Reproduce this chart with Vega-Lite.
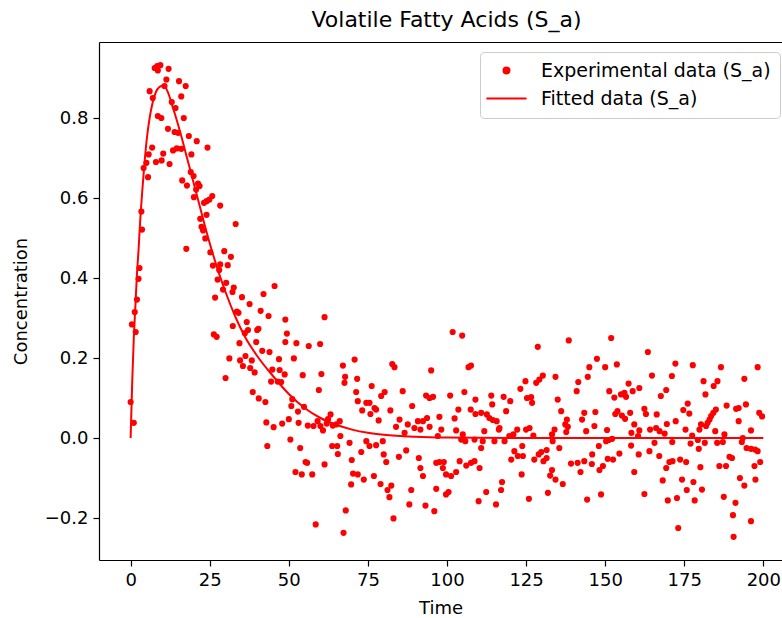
{
"$schema":"https://vega.github.io/schema/vega-lite/v6.json",
"width":683,"height":518,
"autosize":{"type":"none"},
"padding":{"left":99,"top":42,"right":0,"bottom":58},
"background":"white",
"title":{"text":"Volatile Fatty Acids (S_a)","fontSize":22,"font":"DejaVu Sans","fontWeight":"normal","color":"black","offset":10,"dx":6},
"datasets":{
"pts":[
{"t":0.0,"v":0.09,"s":"exp"},{"t":0.4,"v":0.284,"s":"exp"},{"t":1.0,"v":0.038,"s":"exp"},{"t":1.3,"v":0.315,"s":"exp"},{"t":1.6,"v":0.265,"s":"exp"},{"t":2.0,"v":0.346,"s":"exp"},{"t":2.5,"v":0.398,"s":"exp"},{"t":2.8,"v":0.425,"s":"exp"},{"t":3.4,"v":0.566,"s":"exp"},{"t":3.6,"v":0.521,"s":"exp"},{"t":4.1,"v":0.675,"s":"exp"},{"t":5.0,"v":0.688,"s":"exp"},{"t":5.5,"v":0.652,"s":"exp"},{"t":5.7,"v":0.709,"s":"exp"},{"t":6.0,"v":0.867,"s":"exp"},{"t":6.8,"v":0.726,"s":"exp"},{"t":7.0,"v":0.85,"s":"exp"},{"t":7.6,"v":0.925,"s":"exp"},{"t":8.0,"v":0.69,"s":"exp"},{"t":8.4,"v":0.93,"s":"exp"},{"t":8.6,"v":0.919,"s":"exp"},{"t":8.6,"v":0.805,"s":"exp"},{"t":9.4,"v":0.932,"s":"exp"},{"t":9.7,"v":0.80,"s":"exp"},{"t":9.8,"v":0.694,"s":"exp"},{"t":10.3,"v":0.711,"s":"exp"},{"t":10.7,"v":0.88,"s":"exp"},{"t":11.3,"v":0.896,"s":"exp"},{"t":11.8,"v":0.773,"s":"exp"},{"t":12.0,"v":0.923,"s":"exp"},{"t":12.3,"v":0.685,"s":"exp"},{"t":13.0,"v":0.84,"s":"exp"},{"t":13.4,"v":0.719,"s":"exp"},{"t":13.9,"v":0.765,"s":"exp"},{"t":14.2,"v":0.825,"s":"exp"},{"t":14.6,"v":0.724,"s":"exp"},{"t":15.0,"v":0.763,"s":"exp"},{"t":15.3,"v":0.892,"s":"exp"},{"t":16.0,"v":0.854,"s":"exp"},{"t":16.0,"v":0.723,"s":"exp"},{"t":16.3,"v":0.644,"s":"exp"},{"t":16.8,"v":0.80,"s":"exp"},{"t":17.4,"v":0.88,"s":"exp"},{"t":17.6,"v":0.473,"s":"exp"},{"t":17.8,"v":0.631,"s":"exp"},{"t":18.4,"v":0.755,"s":"exp"},{"t":19.0,"v":0.665,"s":"exp"},{"t":19.2,"v":0.709,"s":"exp"},{"t":19.9,"v":0.655,"s":"exp"},{"t":20.0,"v":0.602,"s":"exp"},{"t":20.7,"v":0.621,"s":"exp"},{"t":20.9,"v":0.742,"s":"exp"},
{"t":21.3,"v":0.636,"s":"exp"},{"t":21.8,"v":0.63,"s":"exp"},{"t":22.0,"v":0.548,"s":"exp"},{"t":22.4,"v":0.528,"s":"exp"},{"t":22.9,"v":0.519,"s":"exp"},{"t":23.2,"v":0.588,"s":"exp"},{"t":23.6,"v":0.499,"s":"exp"},{"t":24.0,"v":0.592,"s":"exp"},{"t":24.0,"v":0.558,"s":"exp"},{"t":24.3,"v":0.726,"s":"exp"},{"t":24.9,"v":0.596,"s":"exp"},{"t":25.2,"v":0.464,"s":"exp"},{"t":25.8,"v":0.605,"s":"exp"},{"t":26.0,"v":0.431,"s":"exp"},{"t":26.3,"v":0.259,"s":"exp"},{"t":27.2,"v":0.253,"s":"exp"},{"t":26.7,"v":0.351,"s":"exp"},{"t":27.5,"v":0.396,"s":"exp"},{"t":28.0,"v":0.42,"s":"exp"},{"t":28.3,"v":0.434,"s":"exp"},{"t":28.3,"v":0.581,"s":"exp"},{"t":29.2,"v":0.371,"s":"exp"},{"t":29.6,"v":0.467,"s":"exp"},{"t":30.0,"v":0.15,"s":"exp"},{"t":30.2,"v":0.388,"s":"exp"},{"t":30.7,"v":0.432,"s":"exp"},{"t":31.2,"v":0.199,"s":"exp"},{"t":31.7,"v":0.453,"s":"exp"},{"t":32.2,"v":0.365,"s":"exp"},{"t":32.3,"v":0.28,"s":"exp"},{"t":32.6,"v":0.376,"s":"exp"},{"t":33.2,"v":0.535,"s":"exp"},{"t":33.6,"v":0.316,"s":"exp"},{"t":34.1,"v":0.313,"s":"exp"},{"t":34.4,"v":0.237,"s":"exp"},{"t":34.6,"v":0.194,"s":"exp"},{"t":35.2,"v":0.352,"s":"exp"},{"t":35.5,"v":0.18,"s":"exp"},{"t":36.1,"v":0.262,"s":"exp"},{"t":36.3,"v":0.205,"s":"exp"},{"t":36.7,"v":0.29,"s":"exp"},{"t":37.1,"v":0.27,"s":"exp"},{"t":37.6,"v":0.335,"s":"exp"},{"t":37.8,"v":0.175,"s":"exp"},{"t":38.3,"v":0.194,"s":"exp"},{"t":38.6,"v":0.115,"s":"exp"},{"t":39.2,"v":0.164,"s":"exp"},{"t":39.7,"v":0.24,"s":"exp"},{"t":40.0,"v":0.27,"s":"exp"},{"t":40.4,"v":0.273,"s":"exp"},{"t":40.5,"v":0.099,"s":"exp"},{"t":41.1,"v":0.318,"s":"exp"},{"t":41.6,"v":0.218,"s":"exp"},{"t":42.0,"v":0.36,"s":"exp"},{"t":42.6,"v":0.09,"s":"exp"},{"t":42.9,"v":0.039,"s":"exp"},{"t":43.2,"v":-0.02,"s":"exp"},{"t":43.6,"v":0.305,"s":"exp"},{"t":43.9,"v":0.215,"s":"exp"},{"t":44.4,"v":0.141,"s":"exp"},{"t":44.8,"v":0.171,"s":"exp"},{"t":45.2,"v":0.027,"s":"exp"},{"t":45.5,"v":0.38,"s":"exp"},{"t":46.5,"v":0.141,"s":"exp"},{"t":46.9,"v":0.197,"s":"exp"},{"t":47.1,"v":0.17,"s":"exp"},{"t":47.6,"v":0.14,"s":"exp"},{"t":47.9,"v":0.036,"s":"exp"},{"t":48.7,"v":0.159,"s":"exp"},{"t":48.9,"v":0.24,"s":"exp"},{"t":48.9,"v":0.296,"s":"exp"},{"t":49.4,"v":0.261,"s":"exp"},{"t":50.0,"v":0.047,"s":"exp"},{"t":50.5,"v":-0.004,"s":"exp"},{"t":50.8,"v":0.08,"s":"exp"},{"t":51.1,"v":0.097,"s":"exp"},{"t":51.6,"v":0.199,"s":"exp"},{"t":52.1,"v":-0.085,"s":"exp"},{"t":52.4,"v":0.237,"s":"exp"},{"t":52.9,"v":0.066,"s":"exp"},{"t":53.1,"v":0.038,"s":"exp"},{"t":53.6,"v":-0.025,"s":"exp"},{"t":54.1,"v":-0.091,"s":"exp"},{"t":54.4,"v":0.157,"s":"exp"},{"t":54.8,"v":0.078,"s":"exp"},{"t":55.3,"v":-0.06,"s":"exp"},{"t":55.8,"v":-0.062,"s":"exp"},{"t":56.0,"v":0.031,"s":"exp"},{"t":56.3,"v":0.23,"s":"exp"},{"t":57.4,"v":-0.091,"s":"exp"},{"t":57.8,"v":0.03,"s":"exp"},{"t":58.5,"v":-0.216,"s":"exp"},{"t":59.1,"v":0.042,"s":"exp"},{"t":59.5,"v":0.12,"s":"exp"},{"t":59.9,"v":0.235,"s":"exp"},{"t":60.0,"v":0.03,"s":"exp"},{"t":60.3,"v":0.16,"s":"exp"},{"t":60.8,"v":0.019,"s":"exp"},{"t":61.3,"v":0.302,"s":"exp"},{"t":61.3,"v":-0.066,"s":"exp"},{"t":62.0,"v":0.036,"s":"exp"},{"t":62.4,"v":0.047,"s":"exp"},{"t":63.2,"v":0.059,"s":"exp"},{"t":63.7,"v":-0.02,"s":"exp"},{"t":63.9,"v":0.031,"s":"exp"},{"t":65.0,"v":0.034,"s":"exp"},{"t":65.3,"v":-0.02,"s":"exp"},{"t":65.5,"v":-0.04,"s":"exp"},{"t":66.1,"v":0.042,"s":"exp"},{"t":66.3,"v":0.005,"s":"exp"},{"t":67.1,"v":0.181,"s":"exp"},{"t":67.3,"v":-0.237,"s":"exp"},{"t":67.6,"v":0.138,"s":"exp"},{"t":67.8,"v":0.153,"s":"exp"},{"t":68.0,"v":-0.181,"s":"exp"},
{"t":69.2,"v":-0.012,"s":"exp"},{"t":69.7,"v":-0.116,"s":"exp"},{"t":69.9,"v":-0.055,"s":"exp"},{"t":70.3,"v":-0.089,"s":"exp"},{"t":70.8,"v":0.196,"s":"exp"},{"t":71.3,"v":0.115,"s":"exp"},{"t":71.6,"v":0.148,"s":"exp"},{"t":71.8,"v":0.092,"s":"exp"},{"t":71.8,"v":-0.091,"s":"exp"},{"t":72.9,"v":-0.035,"s":"exp"},{"t":73.2,"v":0.069,"s":"exp"},{"t":73.7,"v":-0.104,"s":"exp"},{"t":74.5,"v":0.088,"s":"exp"},{"t":74.5,"v":-0.008,"s":"exp"},{"t":75.5,"v":0.088,"s":"exp"},{"t":75.5,"v":-0.02,"s":"exp"},{"t":75.8,"v":0.06,"s":"exp"},{"t":76.2,"v":0.13,"s":"exp"},{"t":76.9,"v":-0.095,"s":"exp"},{"t":77.1,"v":0.075,"s":"exp"},{"t":77.6,"v":0.071,"s":"exp"},{"t":77.6,"v":-0.018,"s":"exp"},{"t":78.4,"v":0.044,"s":"exp"},{"t":79.0,"v":-0.115,"s":"exp"},{"t":79.2,"v":0.105,"s":"exp"},{"t":79.7,"v":-0.008,"s":"exp"},{"t":80.0,"v":-0.041,"s":"exp"},{"t":80.3,"v":0.115,"s":"exp"},{"t":80.8,"v":-0.06,"s":"exp"},{"t":81.2,"v":-0.13,"s":"exp"},{"t":81.8,"v":-0.148,"s":"exp"},{"t":82.1,"v":0.069,"s":"exp"},{"t":82.4,"v":-0.119,"s":"exp"},{"t":82.7,"v":0.185,"s":"exp"},{"t":83.1,"v":-0.201,"s":"exp"},{"t":83.4,"v":0.177,"s":"exp"},{"t":83.9,"v":0.028,"s":"exp"},{"t":84.8,"v":-0.047,"s":"exp"},{"t":85.0,"v":0.046,"s":"exp"},{"t":86.0,"v":0.117,"s":"exp"},{"t":86.6,"v":0.013,"s":"exp"},{"t":87.1,"v":-0.031,"s":"exp"},{"t":87.6,"v":0.034,"s":"exp"},{"t":88.1,"v":-0.166,"s":"exp"},{"t":88.7,"v":-0.13,"s":"exp"},{"t":89.0,"v":0.08,"s":"exp"},{"t":89.7,"v":0.025,"s":"exp"},{"t":90.8,"v":0.042,"s":"exp"},{"t":91.1,"v":-0.05,"s":"exp"},{"t":91.6,"v":0.021,"s":"exp"},{"t":91.6,"v":-0.075,"s":"exp"},{"t":92.4,"v":0.042,"s":"exp"},{"t":92.4,"v":-0.095,"s":"exp"},{"t":93.2,"v":-0.169,"s":"exp"},{"t":93.4,"v":0.106,"s":"exp"},{"t":93.7,"v":0.05,"s":"exp"},{"t":94.5,"v":0.1,"s":"exp"},{"t":94.5,"v":0.028,"s":"exp"},{"t":95.0,"v":0.169,"s":"exp"},{"t":95.6,"v":0.103,"s":"exp"},{"t":96.0,"v":-0.183,"s":"exp"},{"t":96.6,"v":-0.062,"s":"exp"},{"t":96.6,"v":-0.127,"s":"exp"},{"t":97.1,"v":0.005,"s":"exp"},{"t":97.6,"v":0.053,"s":"exp"},{"t":97.6,"v":-0.06,"s":"exp"},{"t":98.2,"v":0.021,"s":"exp"},{"t":98.7,"v":-0.075,"s":"exp"},{"t":99.0,"v":-0.06,"s":"exp"},{"t":99.7,"v":-0.091,"s":"exp"},{"t":99.7,"v":-0.141,"s":"exp"},{"t":100.5,"v":-0.135,"s":"exp"},{"t":101.0,"v":0.106,"s":"exp"},{"t":101.3,"v":-0.095,"s":"exp"},{"t":101.8,"v":0.265,"s":"exp"},{"t":102.4,"v":0.049,"s":"exp"},{"t":102.9,"v":0.019,"s":"exp"},{"t":102.9,"v":-0.085,"s":"exp"},{"t":103.6,"v":0.071,"s":"exp"},{"t":104.0,"v":-0.058,"s":"exp"},{"t":104.5,"v":-0.004,"s":"exp"},{"t":104.8,"v":0.256,"s":"exp"},{"t":105.0,"v":0.009,"s":"exp"},{"t":105.5,"v":0.115,"s":"exp"},{"t":105.8,"v":-0.008,"s":"exp"},{"t":106.1,"v":-0.069,"s":"exp"},{"t":106.8,"v":0.177,"s":"exp"},{"t":107.5,"v":0.071,"s":"exp"},{"t":107.6,"v":0.181,"s":"exp"},{"t":107.6,"v":-0.062,"s":"exp"},{"t":108.7,"v":-0.058,"s":"exp"},{"t":108.7,"v":-0.004,"s":"exp"},{"t":109.0,"v":0.096,"s":"exp"},{"t":109.0,"v":0.06,"s":"exp"},{"t":110.0,"v":-0.158,"s":"exp"},{"t":110.3,"v":-0.075,"s":"exp"},{"t":110.8,"v":0.063,"s":"exp"},{"t":110.8,"v":-0.025,"s":"exp"},{"t":111.3,"v":-0.008,"s":"exp"},{"t":111.8,"v":0.017,"s":"exp"},{"t":112.4,"v":-0.135,"s":"exp"},{"t":112.6,"v":0.059,"s":"exp"},{"t":113.4,"v":0.05,"s":"exp"},{"t":114.0,"v":0.106,"s":"exp"},{"t":114.3,"v":0.084,"s":"exp"},{"t":114.5,"v":0.045,"s":"exp"},{"t":115.0,"v":-0.008,"s":"exp"},{"t":115.5,"v":-0.166,"s":"exp"},{"t":115.7,"v":0.042,"s":"exp"},{"t":116.4,"v":0.021,"s":"exp"},{"t":116.6,"v":0.025,"s":"exp"},{"t":117.1,"v":-0.13,"s":"exp"},{"t":117.4,"v":-0.11,"s":"exp"},{"t":117.9,"v":0.103,"s":"exp"},{"t":118.2,"v":-0.008,"s":"exp"},{"t":118.7,"v":0.067,"s":"exp"},{"t":119.7,"v":0.005,"s":"exp"},{"t":120.0,"v":0.092,"s":"exp"},{"t":120.3,"v":-0.054,"s":"exp"},{"t":121.0,"v":0.009,"s":"exp"},{"t":121.3,"v":-0.033,"s":"exp"},{"t":122.2,"v":0.021,"s":"exp"},{"t":122.4,"v":-0.045,"s":"exp"},{"t":123.2,"v":0.123,"s":"exp"},{"t":123.6,"v":-0.091,"s":"exp"},{"t":123.8,"v":-0.02,"s":"exp"},{"t":124.0,"v":-0.045,"s":"exp"},{"t":124.8,"v":0.142,"s":"exp"},{"t":125.0,"v":0.021,"s":"exp"},{"t":125.3,"v":0.1,"s":"exp"},{"t":125.9,"v":-0.152,"s":"exp"},{"t":126.1,"v":0.025,"s":"exp"},{"t":126.6,"v":0.102,"s":"exp"},{"t":126.9,"v":0.088,"s":"exp"},{"t":127.3,"v":0.006,"s":"exp"},{"t":127.6,"v":-0.054,"s":"exp"},{"t":128.2,"v":0.138,"s":"exp"},{"t":128.7,"v":0.228,"s":"exp"},{"t":129.0,"v":-0.041,"s":"exp"},{"t":129.2,"v":0.146,"s":"exp"},{"t":129.8,"v":-0.035,"s":"exp"},{"t":130.3,"v":0.156,"s":"exp"},{"t":130.5,"v":-0.058,"s":"exp"},{"t":131.5,"v":-0.03,"s":"exp"},{"t":131.5,"v":-0.05,"s":"exp"},{"t":131.9,"v":-0.137,"s":"exp"},{"t":132.6,"v":-0.094,"s":"exp"},{"t":133.2,"v":-0.08,"s":"exp"},{"t":133.2,"v":0.009,"s":"exp"},{"t":133.4,"v":-0.008,"s":"exp"},{"t":134.0,"v":0.021,"s":"exp"},{"t":134.3,"v":0.153,"s":"exp"},{"t":134.3,"v":-0.104,"s":"exp"},{"t":135.0,"v":0.096,"s":"exp"},{"t":135.5,"v":-0.025,"s":"exp"},{"t":136.1,"v":0.067,"s":"exp"},{"t":136.6,"v":-0.115,"s":"exp"},{"t":137.4,"v":0.034,"s":"exp"},{"t":137.7,"v":0.015,"s":"exp"},{"t":137.9,"v":0.046,"s":"exp"},{"t":138.2,"v":0.028,"s":"exp"},{"t":138.5,"v":0.244,"s":"exp"},{"t":139.2,"v":-0.064,"s":"exp"},{"t":141.0,"v":0.117,"s":"exp"},{"t":141.3,"v":-0.062,"s":"exp"},{"t":141.5,"v":0.14,"s":"exp"},{"t":142.2,"v":-0.085,"s":"exp"},{"t":142.7,"v":0.046,"s":"exp"},{"t":143.4,"v":0.063,"s":"exp"},{"t":143.4,"v":-0.058,"s":"exp"},{"t":144.0,"v":0.017,"s":"exp"},{"t":144.3,"v":-0.154,"s":"exp"},{"t":144.5,"v":0.153,"s":"exp"},{"t":145.0,"v":0.177,"s":"exp"},{"t":145.8,"v":-0.065,"s":"exp"},{"t":145.9,"v":-0.041,"s":"exp"},{"t":146.6,"v":0.03,"s":"exp"},{"t":146.9,"v":0.065,"s":"exp"},{"t":147.4,"v":0.198,"s":"exp"},{"t":148.0,"v":-0.02,"s":"exp"},{"t":148.2,"v":-0.08,"s":"exp"},{"t":148.7,"v":-0.141,"s":"exp"},{"t":149.3,"v":-0.07,"s":"exp"},{"t":150.0,"v":0.177,"s":"exp"},{"t":150.3,"v":-0.008,"s":"exp"},{"t":150.6,"v":0.02,"s":"exp"},{"t":150.8,"v":-0.052,"s":"exp"},{"t":151.1,"v":-0.005,"s":"exp"},{"t":151.3,"v":0.117,"s":"exp"},{"t":151.9,"v":0.25,"s":"exp"},{"t":152.2,"v":-0.002,"s":"exp"},{"t":152.5,"v":-0.054,"s":"exp"},{"t":152.9,"v":0.101,"s":"exp"},{"t":153.2,"v":0.06,"s":"exp"},{"t":153.7,"v":0.184,"s":"exp"},{"t":153.9,"v":0.067,"s":"exp"},{"t":154.5,"v":-0.039,"s":"exp"},{"t":155.0,"v":0.109,"s":"exp"},{"t":155.3,"v":0.056,"s":"exp"},{"t":156.1,"v":0.113,"s":"exp"},{"t":156.3,"v":0.048,"s":"exp"},{"t":156.6,"v":0.103,"s":"exp"},{"t":157.4,"v":0.136,"s":"exp"},{"t":157.9,"v":0.063,"s":"exp"},{"t":158.2,"v":-0.019,"s":"exp"},{"t":158.3,"v":0.013,"s":"exp"},{"t":158.7,"v":0.117,"s":"exp"},{"t":159.2,"v":0.034,"s":"exp"},{"t":159.2,"v":-0.085,"s":"exp"},{"t":160.4,"v":0.005,"s":"exp"},{"t":160.6,"v":-0.041,"s":"exp"},{"t":160.8,"v":0.125,"s":"exp"},{"t":160.8,"v":0.019,"s":"exp"},{"t":162.4,"v":0.073,"s":"exp"},{"t":162.4,"v":-0.14,"s":"exp"},{"t":162.9,"v":0.06,"s":"exp"},{"t":163.5,"v":0.215,"s":"exp"},{"t":164.0,"v":-0.033,"s":"exp"},{"t":164.2,"v":0.021,"s":"exp"},{"t":164.8,"v":0.156,"s":"exp"},{"t":165.6,"v":-0.012,"s":"exp"},{"t":166.1,"v":0.025,"s":"exp"},{"t":166.3,"v":0.059,"s":"exp"},{"t":167.1,"v":-0.045,"s":"exp"},{"t":167.2,"v":0.017,"s":"exp"},{"t":167.6,"v":0.105,"s":"exp"},{"t":168.2,"v":-0.106,"s":"exp"},{"t":168.8,"v":0.011,"s":"exp"},{"t":169.3,"v":0.12,"s":"exp"},{"t":169.3,"v":-0.075,"s":"exp"},{"t":169.5,"v":0.035,"s":"exp"},{"t":169.8,"v":-0.156,"s":"exp"},{"t":170.3,"v":-0.06,"s":"exp"},{"t":171.1,"v":0.155,"s":"exp"},{"t":171.2,"v":-0.01,"s":"exp"},{"t":171.3,"v":-0.058,"s":"exp"},{"t":172.2,"v":0.186,"s":"exp"},{"t":172.3,"v":0.042,"s":"exp"},{"t":172.7,"v":-0.15,"s":"exp"},{"t":173.1,"v":-0.225,"s":"exp"},{"t":173.7,"v":-0.054,"s":"exp"},{"t":174.3,"v":-0.104,"s":"exp"},{"t":174.7,"v":0.07,"s":"exp"},{"t":175.4,"v":0.021,"s":"exp"},{"t":175.6,"v":-0.06,"s":"exp"},{"t":175.8,"v":-0.13,"s":"exp"},{"t":176.1,"v":0.086,"s":"exp"},{"t":176.6,"v":0.061,"s":"exp"},{"t":177.0,"v":-0.014,"s":"exp"},{"t":177.5,"v":0.006,"s":"exp"},{"t":177.7,"v":0.182,"s":"exp"},{"t":177.9,"v":-0.11,"s":"exp"},{"t":178.3,"v":-0.156,"s":"exp"},{"t":179.3,"v":-0.005,"s":"exp"},{"t":179.6,"v":-0.027,"s":"exp"},{"t":179.8,"v":0.021,"s":"exp"},{"t":180.1,"v":-0.073,"s":"exp"},{"t":180.3,"v":0.034,"s":"exp"},{"t":180.6,"v":-0.129,"s":"exp"},{"t":181.1,"v":0.142,"s":"exp"},{"t":181.5,"v":-0.012,"s":"exp"},{"t":181.7,"v":0.109,"s":"exp"},{"t":181.9,"v":0.03,"s":"exp"},{"t":182.4,"v":0.038,"s":"exp"},{"t":183.0,"v":0.046,"s":"exp"},{"t":183.5,"v":0.055,"s":"exp"},{"t":184.2,"v":0.063,"s":"exp"},{"t":184.3,"v":0.13,"s":"exp"},{"t":184.8,"v":0.017,"s":"exp"},{"t":185.0,"v":0.071,"s":"exp"},{"t":185.4,"v":-0.012,"s":"exp"},{"t":185.5,"v":0.142,"s":"exp"},{"t":186.1,"v":-0.07,"s":"exp"},{"t":186.6,"v":0.177,"s":"exp"},{"t":187.2,"v":-0.01,"s":"exp"},{"t":187.5,"v":-0.147,"s":"exp"},{"t":187.7,"v":0.009,"s":"exp"},{"t":188.2,"v":-0.07,"s":"exp"},{"t":188.4,"v":0.081,"s":"exp"},{"t":189.3,"v":-0.047,"s":"exp"},{"t":190.1,"v":-0.05,"s":"exp"},{"t":190.4,"v":-0.193,"s":"exp"},{"t":190.6,"v":-0.247,"s":"exp"},{"t":191.2,"v":-0.162,"s":"exp"},{"t":191.4,"v":0.073,"s":"exp"},{"t":192.2,"v":0.075,"s":"exp"},{"t":192.2,"v":0.042,"s":"exp"},{"t":192.6,"v":-0.1,"s":"exp"},{"t":193.2,"v":-0.01,"s":"exp"},{"t":193.5,"v":0.0,"s":"exp"},{"t":194.0,"v":0.148,"s":"exp"},{"t":194.0,"v":-0.119,"s":"exp"},{"t":194.5,"v":0.084,"s":"exp"},{"t":194.7,"v":-0.025,"s":"exp"},{"t":196.1,"v":0.019,"s":"exp"},{"t":196.1,"v":-0.027,"s":"exp"},{"t":196.1,"v":-0.208,"s":"exp"},{"t":197.2,"v":-0.07,"s":"exp"},{"t":197.4,"v":-0.029,"s":"exp"},{"t":197.5,"v":-0.104,"s":"exp"},{"t":198.2,"v":0.177,"s":"exp"},{"t":198.2,"v":-0.033,"s":"exp"},{"t":198.7,"v":0.063,"s":"exp"},{"t":199.0,"v":-0.06,"s":"exp"},{"t":199.6,"v":0.054,"s":"exp"}
],
"fit":[
{"t":0,"v":0},{"t":0.5,"v":0.14},{"t":1,"v":0.25},{"t":1.5,"v":0.33},{"t":2,"v":0.41},{"t":2.5,"v":0.47},{"t":3,"v":0.54},{"t":4,"v":0.65},{"t":5,"v":0.74},{"t":6,"v":0.80},{"t":7,"v":0.84},{"t":8,"v":0.865},{"t":9,"v":0.877},{"t":10,"v":0.88},{"t":11,"v":0.876},{"t":12,"v":0.86},{"t":13,"v":0.835},{"t":14,"v":0.81},{"t":16,"v":0.755},{"t":18,"v":0.695},{"t":20,"v":0.635},{"t":22,"v":0.575},{"t":24,"v":0.515},{"t":26,"v":0.46},{"t":28,"v":0.41},{"t":30,"v":0.365},{"t":33,"v":0.305},{"t":36,"v":0.255},{"t":40,"v":0.205},{"t":45,"v":0.155},{"t":50,"v":0.11},{"t":55,"v":0.075},{"t":60,"v":0.05},{"t":65,"v":0.033},{"t":70,"v":0.021},{"t":75,"v":0.013},{"t":80,"v":0.008},{"t":90,"v":0.003},{"t":100,"v":0.001},{"t":120,"v":0.0},{"t":150,"v":0.0},{"t":200,"v":0.0}
]
},
"encoding":{
"y":{"field":"v","type":"quantitative","scale":{"domain":[-0.305,0.99],"nice":false,"zero":false},
"axis":{"values":[-0.2,0,0.2,0.4,0.6,0.8],"format":".1f","title":"Concentration","titlePadding":14}}
},
"layer":[
{"data":{"name":"pts"},
"mark":{"type":"point","filled":true,"opacity":1,"size":38},
"encoding":{
"x":{"field":"t","type":"quantitative","scale":{"domain":[-10,205.9],"nice":false,"zero":false},
"axis":{"values":[0,25,50,75,100,125,150,175,200],"format":"d","title":"Time","titlePadding":10}},
"color":{"field":"s","type":"nominal","scale":{"domain":["exp","fit"],"range":["#ff0000","#ff0000"]},
"legend":{"title":null,"labelExpr":"datum.value == 'exp' ? 'Experimental data (S_a)' : 'Fitted data (S_a)'",
"encode":{"symbols":{"update":{"stroke":{"value":"#ff0000"},"strokeWidth":{"value":2}}}}}},
"shape":{"field":"s","type":"nominal","scale":{"domain":["exp","fit"],"range":["circle","M-6.7,0L6.7,0"]},
"legend":{"title":null,"labelExpr":"datum.value == 'exp' ? 'Experimental data (S_a)' : 'Fitted data (S_a)'"}}
}},
{"data":{"name":"fit"},
"mark":{"type":"line","color":"#ff0000","strokeWidth":2,"interpolate":"monotone"},
"encoding":{
"x":{"field":"t","type":"quantitative","scale":{"domain":[-10,205.9],"nice":false,"zero":false},
"axis":{"orient":"top","labels":false,"ticks":false,"title":null,"domain":true}}
}}
],
"resolve":{"axis":{"x":"independent"}},
"config":{
"view":{"stroke":null},
"axis":{"domainColor":"black","domainWidth":1.2,"tickColor":"black","tickWidth":1.2,"tickSize":6,"labelFont":"DejaVu Sans","labelFontSize":18,"labelColor":"black","titleFont":"DejaVu Sans","titleFontSize":18,"titleFontWeight":"normal","titleColor":"black","grid":false,"labelPadding":5},
"legend":{"orient":"none","legendX":381,"legendY":10,"labelFont":"DejaVu Sans","labelFontSize":19,"labelColor":"black","strokeColor":"#cccccc","fillColor":"white","cornerRadius":4,"padding":9,"rowPadding":8,"symbolSize":36,"symbolOffset":8,"labelOffset":25,"symbolStrokeWidth":2,"symbolStrokeColor":"#ff0000","labelLimit":400}
}
}
